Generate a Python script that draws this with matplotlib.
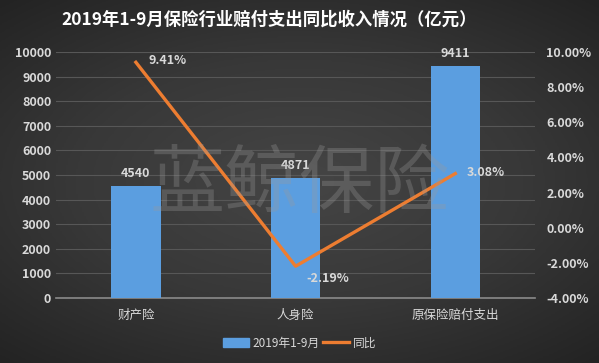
import numpy as np
import matplotlib
matplotlib.use("Agg")
import matplotlib.pyplot as plt
from matplotlib.patches import Patch
from matplotlib.lines import Line2D

plt.rcParams['font.family'] = ['Noto Sans CJK SC', 'DejaVu Sans']

categories = ['财产险', '人身险', '原保险赔付支出']
amounts = [4540, 4871, 9411]          # 亿元
yoy = [9.41, -2.19, 3.08]             # %
bar_label = '2019年1-9月'
line_label = '同比'
title = '2019年1-9月保险行业赔付支出同比收入情况（亿元）'

txt = '#d9d9d9'
fig = plt.figure(figsize=(5.99, 3.63), dpi=100)

# dark vignette background
bg = fig.add_axes([0, 0, 1, 1], zorder=-10)
yy, xx = np.mgrid[-1:1:200j, -1:1:300j]
r = np.sqrt((xx * 0.9) ** 2 + (yy * 1.0) ** 2)
bg.imshow(r, cmap=matplotlib.colors.LinearSegmentedColormap.from_list(
    'bgc', ['#454545', '#383838', '#232323']), vmin=0, vmax=1.35,
    extent=[0, 1, 0, 1], aspect='auto')
bg.axis('off')

ax = fig.add_axes([0.0935, 0.179, 0.80, 0.678])
ax.set_facecolor('none')
x = np.arange(len(categories))
bars = ax.bar(x, amounts, width=0.31, color='#5b9ee0', zorder=3)
ax.set_xlim(-0.5, 2.5)
ax.set_ylim(0, 10000)
ax.set_yticks(np.arange(0, 10001, 1000))
ax.grid(axis='y', color='#575757', linewidth=0.8, zorder=0)
for s in ['top', 'right', 'left']:
    ax.spines[s].set_visible(False)
ax.spines['bottom'].set_color('#8a8a8a')
ax.spines['bottom'].set_linewidth(1.2)
ax.tick_params(length=0, colors=txt, labelsize=9)
ax.tick_params(axis='x', pad=8)
ax.set_xticks(x)
ax.set_xticklabels(categories, fontsize=9)
for lab in ax.get_yticklabels():
    lab.set_fontweight('bold')
for xi, v in zip(x, amounts):
    ax.text(xi, v + 250, str(v), ha='center', va='bottom', color=txt,
            fontsize=9, fontweight='bold', zorder=6)

ax2 = ax.twinx()
ax2.set_ylim(-4, 10)
ax2.set_yticks(np.arange(-4, 10.1, 2))
ax2.set_yticklabels(['%.2f%%' % t for t in np.arange(-4, 10.1, 2)])
for s in ax2.spines.values():
    s.set_visible(False)
ax2.tick_params(length=0, colors=txt, labelsize=9, pad=8)
for lab in ax2.get_yticklabels():
    lab.set_fontweight('bold')
ax2.plot(x, yoy, color='#ed7d31', linewidth=2.4, zorder=5)
offs = [(9, 1, 'center'), (8, -4, 'top'), (8, 1, 'center')]
for xi, v, (dx, dy, va) in zip(x, yoy, offs):
    ax2.annotate('%.2f%%' % v, (xi, v), xytext=(dx, dy), textcoords='offset points',
                 ha='left', va=va, color=txt, fontsize=9, fontweight='bold')

# watermark
fig.text(0.5, 0.49, '蓝鲸保险', ha='center', va='center', fontsize=54,
         color='#9a9a9a', alpha=0.3, fontweight='light', zorder=20)

fig.text(0.45, 0.945, title, ha='center', va='center', color='white',
         fontsize=12.5, fontweight='bold')

handles = [Patch(color='#5b9ee0'), Line2D([0], [0], color='#ed7d31', lw=2.4)]
fig.legend(handles, [bar_label, line_label], loc='center', bbox_to_anchor=(0.5, 0.055),
           ncol=2, frameon=False, fontsize=8.5, labelcolor=txt, handlelength=2.2,
           columnspacing=0.3, handletextpad=0.3)

fig.savefig('out.png', dpi=100)
